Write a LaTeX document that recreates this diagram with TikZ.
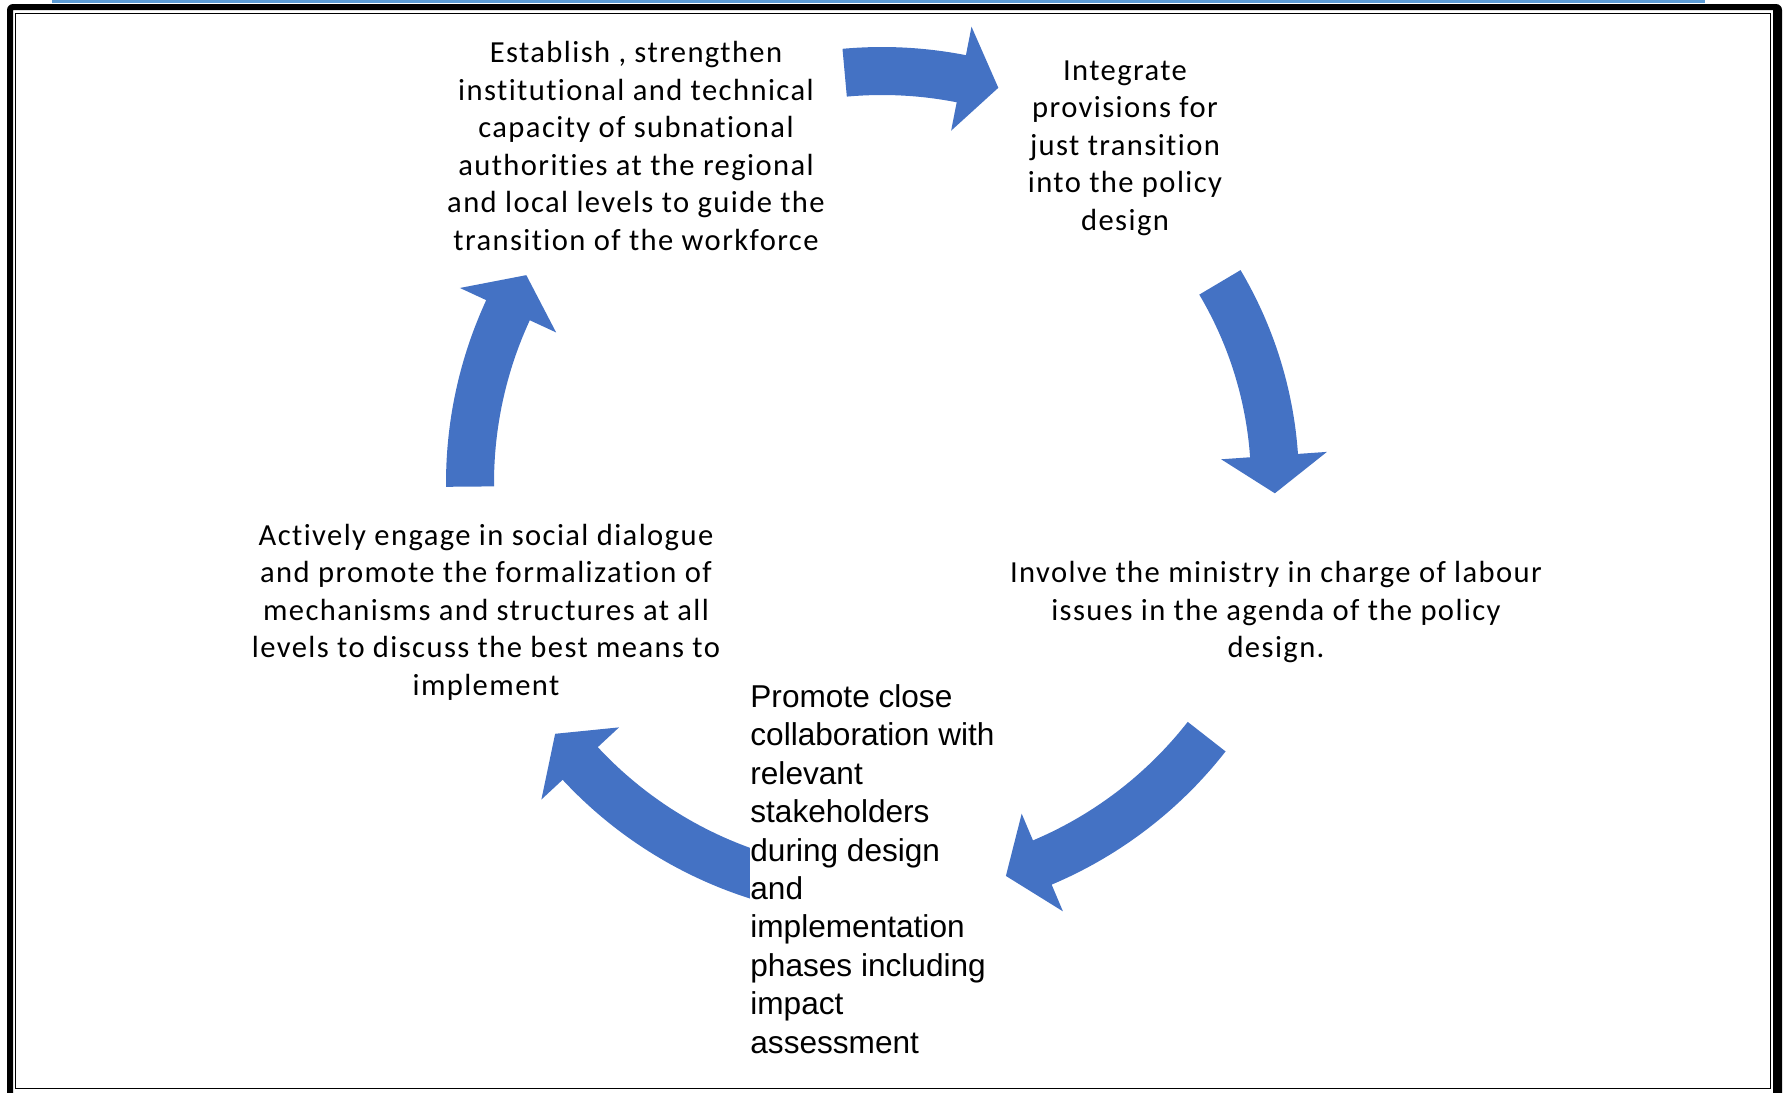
\documentclass[tikz,border=0pt]{standalone}
\usepackage{fontspec}
\setmainfont{Carlito}[Ligatures=NoCommon, LetterSpace=4.6]
\newfontfamily\arialfont{Liberation Sans}
\definecolor{arrowblue}{HTML}{4472C4}
\definecolor{topblue}{HTML}{5B9BD5}
\newcommand\cyclearrow[4]{% #1 radius, #2 tail angle, #3 joint angle, #4 tip angle
  \fill[arrowblue] plot[domain=#2:#3,samples=40] (\x:{#1+24}) -- (#3:{#1+53}) -- (#4:#1)
    -- (#3:{#1-53}) -- plot[domain=#3:#2,samples=40] (\x:{#1-24}) -- cycle;}
\begin{document}
\begin{tikzpicture}[x=0.5pt,y=0.5pt,
  ctext/.style={align=center, inner sep=2pt, font=\fontsize{15.3}{18.75}\selectfont},
  ltext/.style={align=left, fill=white, inner xsep=0pt, inner ysep=3pt,
    font=\arialfont\fontsize{15.8}{19.2}\selectfont}]
\useasboundingbox (0,0) rectangle (1785,-1093);
\begin{scope}
\clip (0,0) rectangle (1785,-1093);
% frame
\fill[black, even odd rule] [rounded corners=3pt] (7,-4) rectangle (1782,-1102)
  [sharp corners] (13,-10) rectangle (1773,-1102);
\draw[line width=0.8pt] (15.5,-13.5) rectangle (1770.5,-1088.5);
\draw[topblue, line width=1.5pt] (52,-1.5) -- (1705,-1.5);
\end{scope}
% cycle arrows
\begin{scope}[shift={(882,-483)}]
\cyclearrow{412}{95.2}{78.9}{73.6}
\cyclearrow{393}{30.7}{4.0}{-1.5}
\cyclearrow{412}{-38.0}{-67.1}{-72.5}
\cyclearrow{412}{-105}{-137.1}{-142.5}
\cyclearrow{412}{180.5}{155.2}{149.7}
\end{scope}
% texts
\node[ctext] (t1) at (636,-146) {Establish , strengthen\\institutional and technical\\capacity of subnational\\authorities at the regional\\and local levels to guide the\\transition of the workforce};
\node[ctext] (t2) at (1125,-148) {Integrate\\provisions for\\just transition\\into the policy\\design};
\node[ctext] (t3) at (1276,-612) {Involve the ministry in charge of labour\\issues in the agenda of the policy\\design.};
\node[ctext] (t4) at (486,-612) {Actively engage in social dialogue\\and promote the formalization of\\mechanisms and structures at all\\levels to discuss the best means to\\implement};
\node[ltext, anchor=west] (t5) at (750,-869) {Promote close\\collaboration with\\relevant\\stakeholders\\during design\\and\\implementation\\phases including\\impact\\assessment};
\end{tikzpicture}
\end{document}
